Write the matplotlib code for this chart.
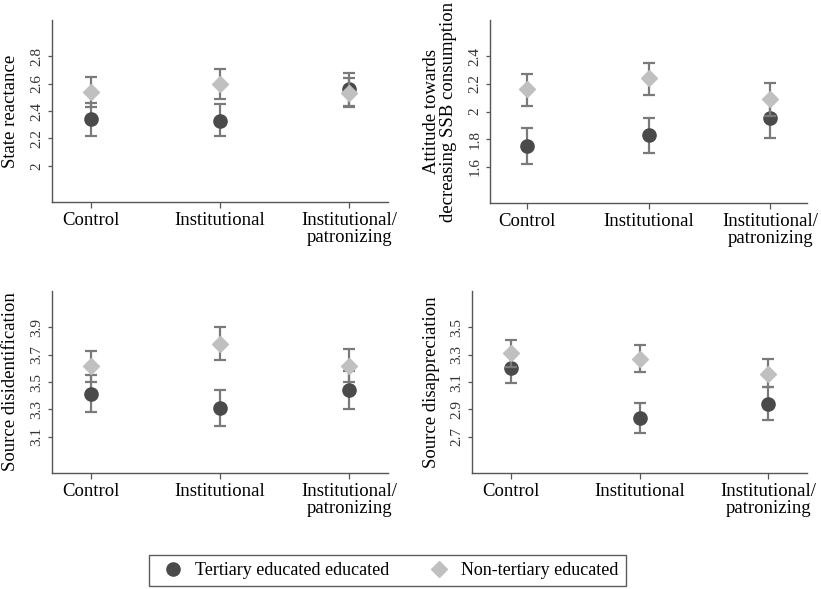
import matplotlib
matplotlib.use("Agg")
import matplotlib.pyplot as plt
from matplotlib.lines import Line2D
import numpy as np

plt.rcParams['font.family'] = ['Liberation Serif', 'DejaVu Serif']

categories = ["Control", "Institutional", "Institutional/\npatronizing"]
series_names = ["Tertiary educated educated", "Non-tertiary educated"]

titles = ["State reactance",
          "Attitude towards\ndecreasing SSB consumption",
          "Source disidentification",
          "Source disappreciation"]

# means, lower, upper for each panel
tert_mean = [[2.34, 2.33, 2.56], [1.75, 1.83, 1.95], [3.41, 3.31, 3.44], [3.20, 2.84, 2.94]]
tert_lo   = [[2.22, 2.22, 2.44], [1.62, 1.70, 1.81], [3.28, 3.18, 3.30], [3.09, 2.73, 2.82]]
tert_hi   = [[2.46, 2.45, 2.68], [1.88, 1.95, 2.08], [3.55, 3.44, 3.58], [3.31, 2.95, 3.06]]

non_mean = [[2.54, 2.60, 2.53], [2.16, 2.24, 2.09], [3.62, 3.78, 3.62], [3.31, 3.27, 3.16]]
non_lo   = [[2.43, 2.49, 2.43], [2.04, 2.12, 1.97], [3.50, 3.66, 3.50], [3.21, 3.17, 3.06]]
non_hi   = [[2.65, 2.71, 2.64], [2.27, 2.35, 2.21], [3.73, 3.90, 3.74], [3.41, 3.37, 3.27]]

yticks = [[2.0, 2.2, 2.4, 2.6, 2.8],
          [1.6, 1.8, 2.0, 2.2, 2.4],
          [3.1, 3.3, 3.5, 3.7, 3.9],
          [2.7, 2.9, 3.1, 3.3, 3.5]]
yticklabels = [["2", "2.2", "2.4", "2.6", "2.8"],
               ["1.6", "1.8", "2", "2.2", "2.4"],
               ["3.1", "3.3", "3.5", "3.7", "3.9"],
               ["2.7", "2.9", "3.1", "3.3", "3.5"]]

W, H = 821, 589
fig = plt.figure(figsize=(W / 100, H / 100), dpi=100)

# axes boxes in pixels: left, right, top, bottom
boxes = [(52, 388, 20, 202), (490, 807, 20, 203), (52, 388, 291, 473), (472, 807, 291, 473)]
label_x = [-0.097, -0.104, -0.097, -0.097]

dark = "#4a4a4a"
light = "#c0c0c0"
err_col = "#7a7a7a"
spine_col = "#555555"

x = np.arange(1, len(categories) + 1)
for i, (l, r, t, b) in enumerate(boxes):
    ax = fig.add_axes([l / W, 1 - b / H, (r - l) / W, (b - t) / H])
    tm = np.array(tert_mean[i]); nm = np.array(non_mean[i])
    ax.errorbar(x, tm, yerr=[tm - np.array(tert_lo[i]), np.array(tert_hi[i]) - tm],
                fmt='o', color=dark, ms=9.5, ecolor=err_col, elinewidth=1.6,
                capsize=4.5, capthick=1.6, zorder=3)
    ax.errorbar(x, nm, yerr=[nm - np.array(non_lo[i]), np.array(non_hi[i]) - nm],
                fmt='D', color=light, ms=8.5, ecolor=err_col, elinewidth=1.6,
                capsize=4.5, capthick=1.6, zorder=4)
    yt = yticks[i]
    ax.set_ylim(yt[0] - 0.265, yt[-1] + 0.265)
    ax.set_xlim(0.7, 3.3)
    ax.set_yticks(yt)
    ax.set_yticklabels(yticklabels[i], rotation=90, va='center', fontsize=11, color="#333333")
    ax.set_xticks(x)
    ax.set_xticklabels(categories, fontsize=13.5, linespacing=1.0)
    ax.tick_params(axis='y', length=3, width=0.9, color=spine_col, pad=3)
    ax.tick_params(axis='x', length=4, width=0.9, color=spine_col, pad=3.5)
    for s in ['top', 'right']:
        ax.spines[s].set_visible(False)
    for s in ['left', 'bottom']:
        ax.spines[s].set_color(spine_col)
        ax.spines[s].set_linewidth(1.0)
    ax.set_ylabel(titles[i], fontsize=13.5, linespacing=1.0)
    ax.yaxis.set_label_coords(label_x[i], 0.5)

handles = [Line2D([], [], marker='o', color=dark, ls='none', ms=9.5),
           Line2D([], [], marker='D', color=light, ls='none', ms=8.5)]
leg = fig.legend(handles, series_names, loc='center', ncol=2,
                 bbox_to_anchor=(387.5 / W, 1 - 570.5 / H), fontsize=13,
                 frameon=True, fancybox=False, edgecolor="#333333",
                 handletextpad=0.3, columnspacing=1.9, borderpad=0.4,
                 handlelength=1.8)
leg.get_frame().set_linewidth(1.0)

fig.savefig("out.png", dpi=100)
